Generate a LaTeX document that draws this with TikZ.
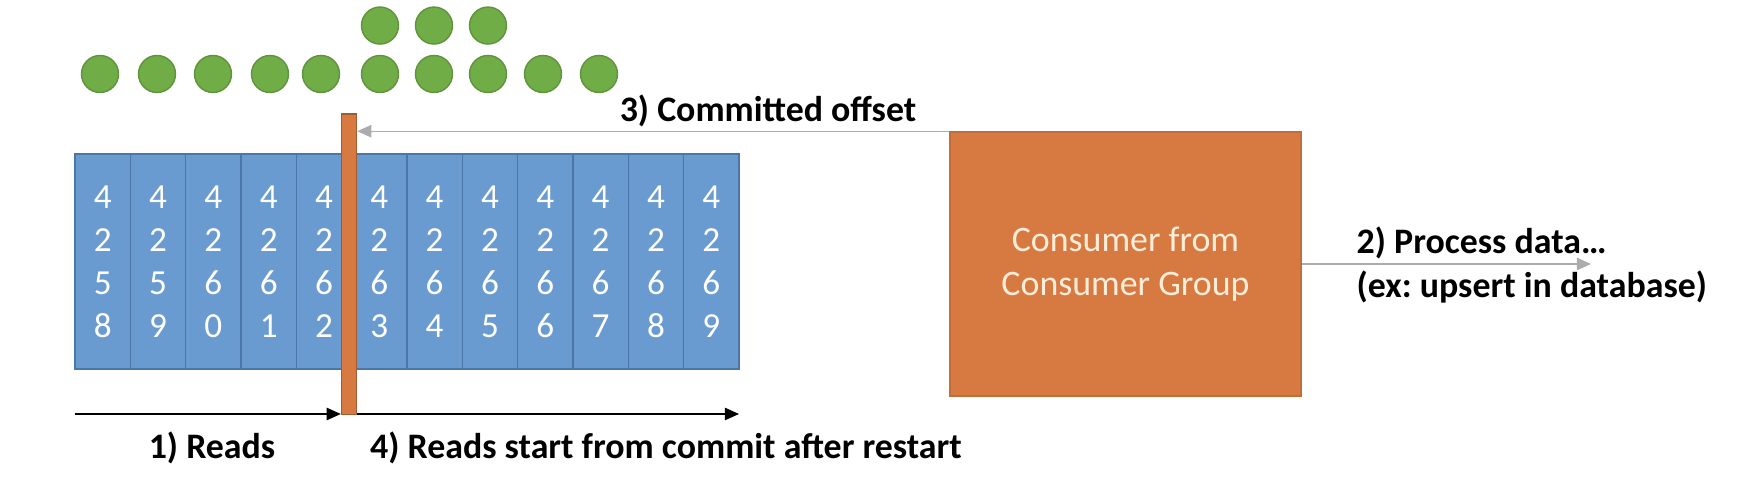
\documentclass[tikz,border=0pt]{standalone}
\usepackage{fontspec}
\setmainfont{Carlito}
\frenchspacing
\usetikzlibrary{arrows.meta, positioning}
\usepackage{xcolor}
\definecolor{CellBlue}{RGB}{106,155,208}
\definecolor{CellEdge}{RGB}{74,118,168}
\definecolor{BurntOrange}{RGB}{214,122,66}
\definecolor{OffsetGreen}{RGB}{112,173,71}

\begin{document}
\begin{tikzpicture}[x=0.01cm, y=-0.01cm,
          cell/.style={rectangle, draw=CellEdge, fill=CellBlue, minimum width=0.553cm, minimum height=2.15cm, inner sep=0pt, outer sep=0pt, text=white, align=center, font=\fontsize{10}{12.2}\selectfont},
          msg/.style={circle, draw=OffsetGreen!85!black, fill=OffsetGreen, minimum size=0.37cm, inner sep=0pt},
          marker/.style={rectangle, draw=BurntOrange!75!black, fill=BurntOrange, minimum width=0.15cm, minimum height=3cm, inner sep=0pt},
          consumer/.style={rectangle, draw=BurntOrange!90!black, fill=BurntOrange, minimum width=3.51cm, minimum height=2.64cm, text=orange!15, align=center, font=\fontsize{10.2}{12.7}\selectfont},
          flow/.style={draw=gray!65, thin, -{Triangle[length=4pt,width=3.5pt]}},
          read/.style={draw=black, thin, -{Triangle[length=4pt,width=3.5pt]}},
          note/.style={font=\bfseries\fontsize{10.2}{12}\selectfont, inner sep=0pt}
        ]
          \useasboundingbox (0,0) rectangle (1748,498);

          % messages in the topic
          \node (m1) [msg] at (100,74) {};
          \node (m2) [msg] at (157,74) {};
          \node (m3) [msg] at (213,74) {};
          \node (m4) [msg] at (270,74) {};
          \node (m5) [msg] at (321,74) {};
          \node (m6) [msg] at (380,74) {};
          \node (m7) [msg] at (434,74) {};
          \node (m8) [msg] at (488,74) {};
          \node (m9) [msg] at (543,74) {};
          \node (m10) [msg] at (599,74) {};
          \node (m11) [msg, above=0.1cm of m6] {};
          \node (m12) [msg, above=0.1cm of m7] {};
          \node (m13) [msg, above=0.1cm of m8] {};

          % offsets
          \node (c1) [cell, anchor=north west] at (75,154) {4\\2\\5\\8};
          \node (c2) [cell, right=0pt of c1] {4\\2\\5\\9};
          \node (c3) [cell, right=0pt of c2] {4\\2\\6\\0};
          \node (c4) [cell, right=0pt of c3] {4\\2\\6\\1};
          \node (c5) [cell, right=0pt of c4] {4\\2\\6\\2};
          \node (c6) [cell, right=0pt of c5] {4\\2\\6\\3};
          \node (c7) [cell, right=0pt of c6] {4\\2\\6\\4};
          \node (c8) [cell, right=0pt of c7] {4\\2\\6\\5};
          \node (c9) [cell, right=0pt of c8] {4\\2\\6\\6};
          \node (c10) [cell, right=0pt of c9] {4\\2\\6\\7};
          \node (c11) [cell, right=0pt of c10] {4\\2\\6\\8};
          \node (c12) [cell, right=0pt of c11] {4\\2\\6\\9};

          \node (bar) [marker, anchor=south] at (349,415) {};

          % consumer
          \node (cons) [consumer] at (1125.5,264) {Consumer from\\Consumer Group};
          \draw[flow] (cons.north west) -- (cons.north west -| bar.east);
          \node (lbl3) [note] at (768,111) {3) Committed offset};

          \coordinate (out) at (1591,264);
          \draw[flow] (cons.east) -- (out);
          \node (lbl2) [note, anchor=west] at (1356,243) {2) Process data…};
          \node (lbl2b) [note, anchor=west] at (1356,287) {(ex: upsert in database)};

          % reading
          \coordinate (rstart) at (75,414);
          \coordinate (rend) at (739,414);
          \draw[read] (rstart) -- (rstart -| bar.west);
          \draw[read] (rstart -| bar.east) -- (rend);
          \node (lbl1) [note] at (212,448) {1) Reads};
          \node (lbl4) [note] at (666,448) {4) Reads start from commit after restart};
        \end{tikzpicture}
\end{document}
